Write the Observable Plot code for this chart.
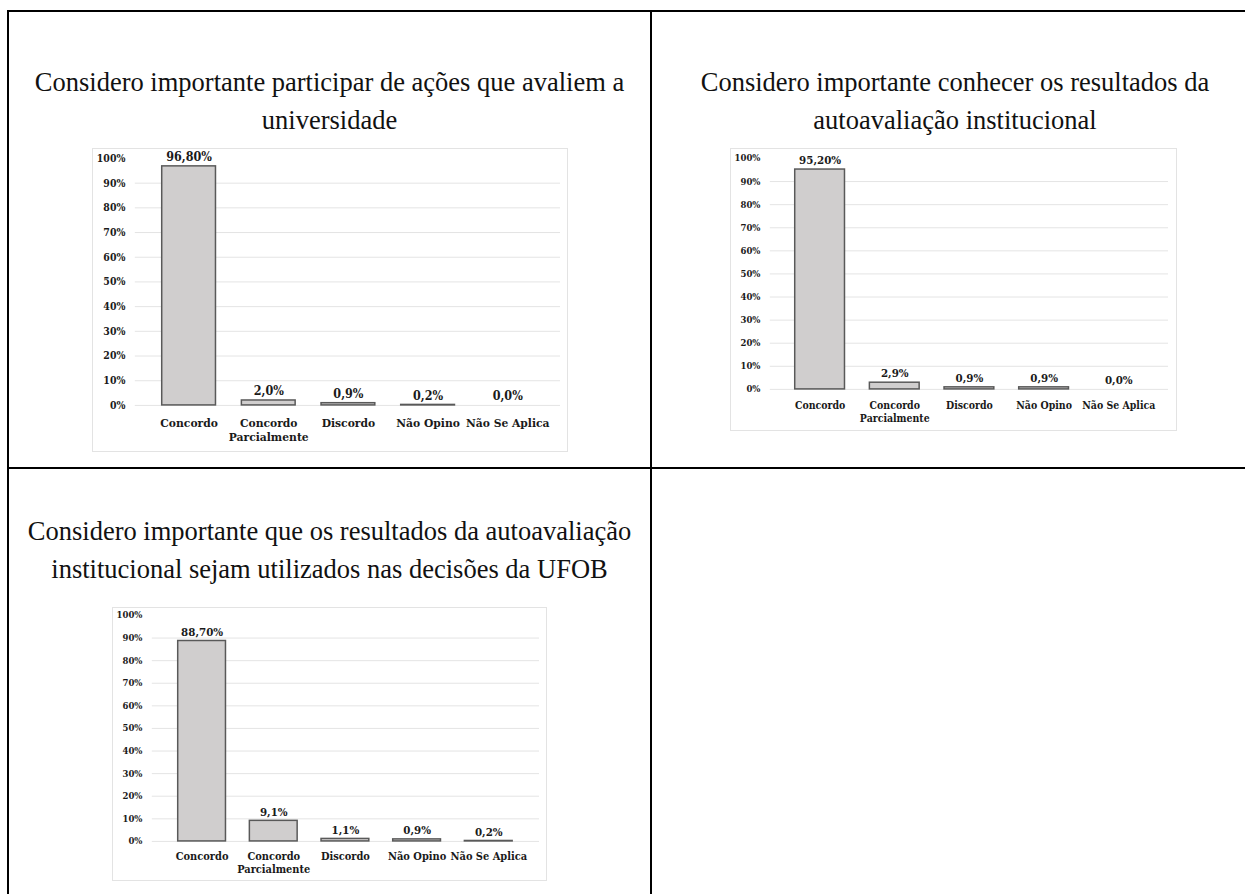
<!DOCTYPE html>
<html>
<head>
<meta charset="utf-8">
<script src="https://cdn.jsdelivr.net/npm/d3@7"></script>
<script src="https://cdn.jsdelivr.net/npm/@observablehq/plot@0.6"></script>
<style>
  html, body { margin: 0; padding: 0; background: #fff; }
  body { width: 1245px; height: 894px; position: relative; overflow: hidden; }
  .line { position: absolute; background: #000; }
  .title { position: absolute; font-family: "Liberation Serif", "Times New Roman", serif; font-size: 26.5px; line-height: 38px; color: #111; text-align: center; white-space: nowrap; }
  .box { position: absolute; border: 1px solid #e3e3e3; box-sizing: border-box; background: #fff; }
  .box svg { display: block; position: absolute; left: -1px; top: -1px; }
</style>
</head>
<body>
<div class="line" style="left:7px;top:10px;width:2px;height:884px"></div>
<div class="line" style="left:7px;top:10px;width:1238px;height:2px"></div>
<div class="line" style="left:650px;top:10px;width:2px;height:884px"></div>
<div class="line" style="left:7px;top:467px;width:1238px;height:2px"></div>

<div class="title" style="left:9px;width:641px;top:63px">Considero importante participar de ações que avaliem a<br>universidade</div>
<div class="title" style="left:677px;width:556px;top:63px">Considero importante conhecer os resultados da<br>autoavaliação institucional</div>
<div class="title" style="left:9px;width:641px;top:512px">Considero importante que os resultados da autoavaliação<br>institucional sejam utilizados nas decisões da UFOB</div>

<div id="c1" class="box" style="left:92px;top:148px;width:476px;height:304px"></div>
<div id="c2" class="box" style="left:730px;top:148px;width:447px;height:283px"></div>
<div id="c3" class="box" style="left:112px;top:607px;width:435px;height:274px"></div>

<script>
// Categories (shared by all three charts)
const categories = ["Concordo", "Concordo Parcialmente", "Discordo", "Não Opino", "Não Se Aplica"];
const categoryTickLabels = ["Concordo", "Concordo\nParcialmente", "Discordo", "Não Opino", "Não Se Aplica"];

// Chart 1: participar de ações que avaliem a universidade
const values1 = [96.8, 2.0, 0.9, 0.2, 0.0];
const labels1 = ["96,80%", "2,0%", "0,9%", "0,2%", "0,0%"];

// Chart 2: conhecer os resultados da autoavaliação institucional
const values2 = [95.2, 2.9, 0.9, 0.9, 0.0];
const labels2 = ["95,20%", "2,9%", "0,9%", "0,9%", "0,0%"];

// Chart 3: resultados utilizados nas decisões da UFOB
const values3 = [88.7, 9.1, 1.1, 0.9, 0.2];
const labels3 = ["88,70%", "9,1%", "1,1%", "0,9%", "0,2%"];

const yTicks = [0, 10, 20, 30, 40, 50, 60, 70, 80, 90, 100];

const FONT = "'DejaVu Serif Condensed', 'DejaVu Serif', serif";

function makeChart(values, labels, o) {
  const data = categories.map((c, i) => ({cat: c, value: values[i], label: labels[i]}));
  const tickMap = new Map(categories.map((c, i) => [c, categoryTickLabels[i]]));
  return Plot.plot({
    width: o.width,
    height: o.height,
    marginTop: o.mt, marginRight: o.mr, marginBottom: o.mb, marginLeft: o.ml,
    style: {fontFamily: FONT, color: "#1a1a1a", background: "transparent", overflow: "visible"},
    x: {domain: categories, padding: 0.33, axis: null, label: null},
    y: {domain: [0, 100], axis: null, label: null},
    marks: [
      Plot.ruleY(yTicks.slice(0, 10), {stroke: "#e4e4e4", strokeWidth: 1}),
      Plot.axisY(yTicks, {label: null, tickSize: 0, tickPadding: o.yPad, tickFormat: d => d + "%", fontSize: o.yFont, fontWeight: "bold", fill: "#1a1a1a"}),
      Plot.axisX({label: null, tickSize: 0, tickPadding: o.xPad, tickFormat: d => tickMap.get(d), fontSize: o.xFont, fontWeight: "bold", lineHeight: 1.2, fill: "#1a1a1a"}),
      Plot.barY(data, {x: "cat", y: "value", fill: "#d0cece", stroke: "#595959", strokeWidth: 1.5}),
      Plot.text(data, {x: "cat", y: "value", text: "label", dy: -9, fontSize: o.vFont, fontWeight: "bold", fill: "#1a1a1a"})
    ]
  });
}

document.getElementById("c1").appendChild(makeChart(values1, labels1,
  {width: 476, height: 304, mt: 10, mr: 6, mb: 46, ml: 43, yPad: 10, xPad: 11, yFont: 10.5, xFont: 12, vFont: 12.5}));
document.getElementById("c2").appendChild(makeChart(values2, labels2,
  {width: 447, height: 283, mt: 10, mr: 7, mb: 41, ml: 40, yPad: 10, xPad: 11, yFont: 9.5, xFont: 10.5, vFont: 11.5}));
document.getElementById("c3").appendChild(makeChart(values3, labels3,
  {width: 435, height: 274, mt: 8, mr: 6, mb: 39, ml: 40, yPad: 10, xPad: 9, yFont: 9.5, xFont: 11, vFont: 11.5}));
</script>
</body>
</html>
